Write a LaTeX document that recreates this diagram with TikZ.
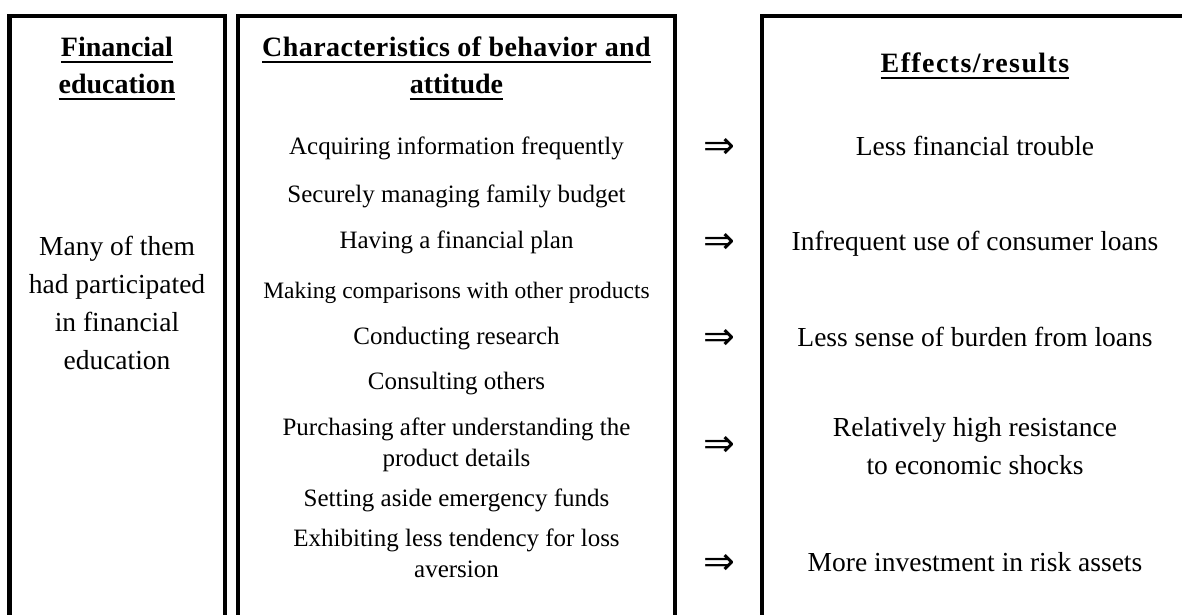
\documentclass[tikz,border=0pt]{standalone}
\usepackage{fontspec}
\setmainfont{Liberation Serif}
\newfontfamily\arrfont{DejaVu Sans}
\newcommand\ulbox[1]{\setbox0\hbox{#1}\rlap{\rule[-6pt]{\wd0}{2pt}}\box0}
\begin{document}
\begin{tikzpicture}[x=1pt,y=-1pt,
  frame/.style={line width=4.3pt, line join=miter},
  title/.style={font={\fontsize{28}{37}\selectfont\bfseries}, align=center, inner sep=0pt},
  midtxt/.style={font={\fontsize{25}{31}\selectfont}, align=center, inner sep=0pt},
  sidetxt/.style={font={\fontsize{27.5}{38}\selectfont}, align=center, inner sep=0pt},
  implies/.style={font={\arrfont\fontsize{38}{38}\selectfont}, inner sep=0pt}]
\useasboundingbox (0,0) rectangle (1182,615);
% frames (open at the bottom; third open at the right)
\draw[frame] (9.5,615) -- (9.5,16) -- (224.7,16) -- (224.7,615);
\draw[frame] (238,615) -- (238,16) -- (675,16) -- (675,615);
\draw[frame] (762,615) -- (762,16) -- (1182,16);
% titles
\node[title] (t1) at (117,68.1) {\ulbox{Financial}\strut\\\ulbox{education}\strut};
\node[title] (t2) at (456.5,68.1) {\ulbox{\addfontfeatures{LetterSpace=1.5}Characteristics of behavior and}\strut\\\ulbox{attitude}\strut};
\node[title] (t3) at (975,65.6) {\ulbox{\addfontfeatures{LetterSpace=5}Effects/results}\strut};
% left column
\node[sidetxt] (fe) at (117,304.4) {Many of them\strut\\had participated\strut\\in financial\strut\\education\strut};
% middle column
\node[midtxt] (m1) at (456.5,148) {Acquiring information frequently\strut};
\node[midtxt] (m2) at (456.5,196) {Securely managing family budget\strut};
\node[midtxt] (m3) at (456.5,242) {Having a financial plan\strut};
\node[midtxt, font={\fontsize{23.5}{31}\selectfont}] (m4) at (456.5,292) {Making comparisons with other products\strut};
\node[midtxt] (m5) at (456.5,338) {Conducting research\strut};
\node[midtxt] (m6) at (456.5,383) {Consulting others\strut};
\node[midtxt] (m7) at (456.5,445) {Purchasing after understanding the\strut\\product details\strut};
\node[midtxt] (m8) at (456.5,500) {Setting aside emergency funds\strut};
\node[midtxt] (m9) at (456.5,556) {Exhibiting less tendency for loss\strut\\aversion\strut};
% arrows
\node[implies] (a1) at (719,148) {⇒};
\node[implies] (a2) at (719,243) {⇒};
\node[implies] (a3) at (719,339) {⇒};
\node[implies] (a4) at (719,446) {⇒};
\node[implies] (a5) at (719,564) {⇒};
% right column
\node[sidetxt] (r1) at (975,148) {Less financial trouble\strut};
\node[sidetxt] (r2) at (975,243) {Infrequent use of consumer loans\strut};
\node[sidetxt] (r3) at (975,339) {Less sense of burden from loans\strut};
\node[sidetxt] (r4) at (975,448) {Relatively high resistance\strut\\to economic shocks\strut};
\node[sidetxt] (r5) at (975,564) {More investment in risk assets\strut};
\end{tikzpicture}
\end{document}
